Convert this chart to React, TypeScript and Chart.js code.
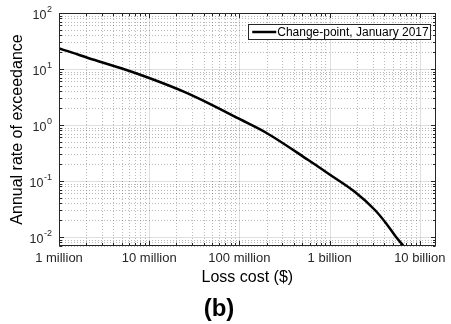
import React, { useEffect, useRef } from "react";
import { Chart, registerables } from "chart.js";

Chart.register(...registerables);

// Exceedance curve: loss cost ($) against annual rate of exceedance
const lossCost = [
  1e6, 1.4e6, 2.1e6, 5e6, 1e7, 2.45e7, 5e7, 1e8, 2e8, 5.8e8, 1.02e9,
  1.9e9, 3.2e9, 4.2e9, 5.4e9, 6.6e9,
];
const annualRate = [
  23.2, 19.6, 15.7, 10.2, 6.9, 3.9, 2.27, 1.28, 0.72, 0.237, 0.128,
  0.064, 0.03, 0.0178, 0.0102, 0.0069,
];

const seriesLabel = "Change-point, January 2017";
const xTickValues = [1e6, 1e7, 1e8, 1e9, 1e10];
const xTickLabels = ["1 million", "10 million", "100 million", "1 billion", "10 billion"];
const yTickValues = [1e-2, 1e-1, 1e0, 1e1, 1e2];
const yTickExponents = ["-2", "-1", "0", "1", "2"];
const xAxisTitle = "Loss cost ($)";
const yAxisTitle = "Annual rate of exceedance";
const panelTitle = "(b)";

const X_MIN = 1e6;
const X_MAX = 1.5e10;
const Y_MIN = 0.0069;
const Y_MAX = 100;

const FONT = "'Liberation Sans', Arial, Helvetica, sans-serif";
const INK = "#262626";

function minorValues(min: number, max: number): number[] {
  const out: number[] = [];
  const lo = Math.floor(Math.log10(min));
  const hi = Math.ceil(Math.log10(max));
  for (let n = lo; n <= hi; n++) {
    for (let k = 2; k <= 9; k++) {
      const v = k * Math.pow(10, n);
      if (v > min && v < max) out.push(v);
    }
  }
  return out;
}

function majorValues(min: number, max: number): number[] {
  const out: number[] = [];
  const lo = Math.floor(Math.log10(min));
  const hi = Math.ceil(Math.log10(max));
  for (let n = lo; n <= hi; n++) {
    const v = Math.pow(10, n);
    if (v >= min && v <= max) out.push(v);
  }
  return out;
}

const crisp = (v: number) => Math.round(v) + 0.5;

const framePlugin = {
  id: "frame",
  beforeDatasetsDraw(chart: any) {
    const { ctx, chartArea: a, scales } = chart;
    const xs = scales.x;
    const ys = scales.y;
    ctx.save();
    // minor grid (dotted)
    ctx.strokeStyle = "rgba(38,38,38,0.32)";
    ctx.lineWidth = 1;
    ctx.setLineDash([1, 2]);
    ctx.beginPath();
    for (const v of minorValues(X_MIN, X_MAX)) {
      const px = crisp(xs.getPixelForValue(v));
      ctx.moveTo(px, a.top);
      ctx.lineTo(px, a.bottom);
    }
    for (const v of minorValues(Y_MIN, Y_MAX)) {
      const py = crisp(ys.getPixelForValue(v));
      ctx.moveTo(a.left, py);
      ctx.lineTo(a.right, py);
    }
    ctx.stroke();
    // major grid (solid)
    ctx.setLineDash([]);
    ctx.strokeStyle = "rgba(38,38,38,0.15)";
    ctx.beginPath();
    for (const v of majorValues(X_MIN, X_MAX)) {
      const px = crisp(xs.getPixelForValue(v));
      ctx.moveTo(px, a.top);
      ctx.lineTo(px, a.bottom);
    }
    for (const v of majorValues(Y_MIN, Y_MAX)) {
      const py = crisp(ys.getPixelForValue(v));
      ctx.moveTo(a.left, py);
      ctx.lineTo(a.right, py);
    }
    ctx.stroke();
    ctx.restore();
  },
  afterDatasetsDraw(chart: any) {
    const { ctx, chartArea: a, scales } = chart;
    const xs = scales.x;
    const ys = scales.y;
    const L = crisp(a.left);
    const R = crisp(a.right) - 1;
    const T = crisp(a.top);
    const B = crisp(a.bottom) - 1;
    ctx.save();
    ctx.strokeStyle = INK;
    ctx.lineWidth = 1;
    ctx.setLineDash([]);
    // inward tick marks on all four sides
    ctx.beginPath();
    const xt = (v: number, len: number) => {
      const px = crisp(xs.getPixelForValue(v));
      ctx.moveTo(px, B);
      ctx.lineTo(px, B - len);
      ctx.moveTo(px, T);
      ctx.lineTo(px, T + len);
    };
    const yt = (v: number, len: number) => {
      const py = crisp(ys.getPixelForValue(v));
      ctx.moveTo(L, py);
      ctx.lineTo(L + len, py);
      ctx.moveTo(R, py);
      ctx.lineTo(R - len, py);
    };
    minorValues(X_MIN, X_MAX).forEach((v) => xt(v, 2.5));
    majorValues(X_MIN, X_MAX).forEach((v) => xt(v, 4.5));
    minorValues(Y_MIN, Y_MAX).forEach((v) => yt(v, 2.5));
    majorValues(Y_MIN, Y_MAX).forEach((v) => yt(v, 4.5));
    ctx.stroke();
    // axes box
    ctx.strokeRect(L, T, R - L, B - T);

    // legend box
    const boxRight = a.right - 5;
    const boxTop = a.top + 11;
    const boxH = 15;
    ctx.font = `12px ${FONT}`;
    const textW = ctx.measureText(seriesLabel).width;
    const boxW = textW + 31;
    const boxLeft = boxRight - boxW;
    ctx.fillStyle = "#fff";
    ctx.fillRect(boxLeft, boxTop, boxW, boxH);
    ctx.strokeStyle = INK;
    ctx.strokeRect(crisp(boxLeft), crisp(boxTop), Math.round(boxW), boxH);
    ctx.strokeStyle = "#000";
    ctx.lineWidth = 2.5;
    ctx.beginPath();
    ctx.moveTo(boxLeft + 4, boxTop + boxH / 2 + 0.5);
    ctx.lineTo(boxLeft + 28, boxTop + boxH / 2 + 0.5);
    ctx.stroke();
    ctx.fillStyle = "#000";
    ctx.textBaseline = "middle";
    ctx.textAlign = "left";
    ctx.fillText(seriesLabel, boxLeft + 29, boxTop + boxH / 2 + 1);

    // y tick labels with superscript exponents
    ctx.fillStyle = INK;
    const rightEdge = a.left - 7;
    yTickValues.forEach((v, i) => {
      const py = ys.getPixelForValue(v);
      const exp = yTickExponents[i];
      ctx.font = `9px ${FONT}`;
      const ew = ctx.measureText(exp).width;
      ctx.textAlign = "left";
      ctx.textBaseline = "middle";
      ctx.fillText(exp, rightEdge - ew, py - 3);
      ctx.font = `12.5px ${FONT}`;
      ctx.textAlign = "right";
      ctx.fillText("10", rightEdge - ew - 0.5, py + 2.5);
    });
    ctx.restore();
  },
};

export default function App() {
  const canvasRef = useRef<HTMLCanvasElement | null>(null);

  useEffect(() => {
    const canvas = canvasRef.current;
    if (!canvas) return;
    Chart.defaults.font.family = FONT;
    const points = lossCost.map((x, i) => ({ x, y: annualRate[i] }));
    const chart = new Chart(canvas, {
      type: "line",
      data: {
        datasets: [
          {
            label: seriesLabel,
            data: points,
            borderColor: "#000",
            borderWidth: 2.5,
            pointRadius: 0,
            fill: false,
            cubicInterpolationMode: "monotone",
          },
        ],
      },
      options: {
        animation: false,
        responsive: false,
        maintainAspectRatio: false,
        events: [],
        layout: { padding: { top: 13, right: 13, bottom: 0, left: 0 } },
        plugins: {
          legend: { display: false },
          tooltip: { enabled: false },
          title: {
            display: true,
            text: panelTitle,
            position: "bottom",
            color: "#000",
            font: { size: 24, weight: "bold", family: FONT, lineHeight: 1.2 },
            padding: { top: 0, bottom: 0 },
          },
        },
        scales: {
          x: {
            type: "logarithmic",
            min: X_MIN,
            max: X_MAX,
            grid: { display: false, drawTicks: false },
            border: { display: false },
            afterBuildTicks: (axis: any) => {
              axis.ticks = xTickValues.map((value) => ({ value }));
            },
            afterFit: (axis: any) => {
              axis.height = 49.2;
            },
            ticks: {
              autoSkip: false,
              maxRotation: 0,
              padding: 5,
              color: INK,
              font: { size: 13, family: FONT },
              callback: (value: any) => {
                const i = xTickValues.indexOf(Number(value));
                return i >= 0 ? xTickLabels[i] : "";
              },
            },
            title: {
              display: true,
              text: xAxisTitle,
              color: "#000",
              font: { size: 16, family: FONT, lineHeight: 1.2 },
              padding: { top: 0, bottom: 7.6 },
            },
          },
          y: {
            type: "logarithmic",
            min: Y_MIN,
            max: Y_MAX,
            grid: { display: false, drawTicks: false },
            border: { display: false },
            afterBuildTicks: (axis: any) => {
              axis.ticks = yTickValues.map((value) => ({ value }));
            },
            afterFit: (axis: any) => {
              axis.width = 59;
            },
            ticks: { display: false },
            title: {
              display: true,
              text: yAxisTitle,
              color: "#000",
              font: { size: 16, family: FONT, lineHeight: 1.2 },
              padding: { top: 8.4, bottom: 0 },
            },
          },
        },
      },
      plugins: [framePlugin],
    } as any);
    return () => chart.destroy();
  }, []);

  return (
    <div style={{ position: "fixed", left: 0, top: 0, width: 451, height: 324, background: "#fff" }}>
      <canvas ref={canvasRef} width={451} height={324} />
    </div>
  );
}
